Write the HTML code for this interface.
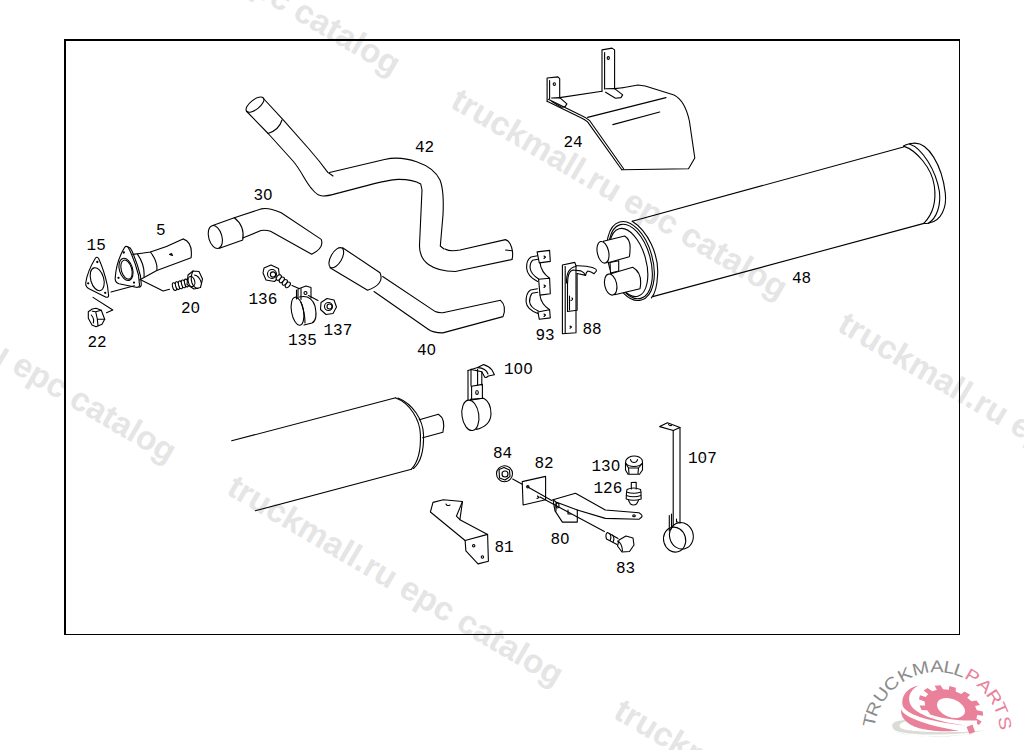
<!DOCTYPE html>
<html><head><meta charset="utf-8">
<style>
html,body{margin:0;padding:0;background:#fff;width:1024px;height:750px;overflow:hidden}
svg{position:absolute;left:0;top:0}
.wm{font-family:"Liberation Sans",sans-serif;font-weight:bold;font-size:33.25px;fill:#e5e5e5}
.lb{font-family:"Liberation Mono",monospace;font-size:16px;fill:#000}
</style></head><body>
<svg width="1024" height="750" viewBox="0 0 1024 750">
<g id="wm" class="wm">
<text transform="translate(449,106.4) rotate(30.4)">truckmall.ru epc catalog</text>
<text transform="translate(836,330) rotate(30.4)">truckmall.ru epc catalog</text>
<text transform="translate(62,-117.3) rotate(30.4)">truckmall.ru epc catalog</text>
<text transform="translate(225.2,493.2) rotate(30.4)">truckmall.ru epc catalog</text>
<text transform="translate(612,717) rotate(30.4)">truckmall.ru epc catalog</text>
<text transform="translate(-162,270) rotate(30.4)">truckmall.ru epc catalog</text>
</g>
<g id="border" fill="none" stroke="#000">
<rect x="64" y="39" width="2" height="596" fill="#000" stroke="none"/><rect x="64" y="39" width="896" height="2" fill="#000" stroke="none"/><rect x="959" y="39" width="1" height="596" fill="#000" stroke="none"/><rect x="64" y="634" width="896" height="1" fill="#000" stroke="none"/>
</g>
<g id="draw" fill="none" stroke="#000" stroke-width="1.1" stroke-linecap="round" stroke-linejoin="round">
<!-- pipe 42 -->
<ellipse cx="255" cy="104.6" rx="10.7" ry="4.8" transform="rotate(-38 255 104.6)"/>
<path d="M263,98 L283,119.6 L309,149 C316,157 321,163 327.8,172.4 L333,176"/>
<path d="M268,133.5 Q279,130 282,120"/>
<path d="M329.5,172.5 L384.5,159.5 C404,155 432,163 440,180 C444,190 443.5,205 443,215 L440.3,246 L444,249"/>
<path d="M445,249 Q450,252 460,250 L505.5,239.6 C511,241 514,252 512,259.5"/>
<path d="M505.5,250 L511.7,250.7"/>
<path d="M246.5,111.25 L268.6,134 L293,161 C301,170 306,183 312,189 C315,193 318,196 323,196 C329,196 334,194 340,192.6 L360,187.4 C375,183.5 388,179.6 398,179.4 C408,179.3 416,181 420.75,184 L422,190 L419.5,245 C419,262 432,271 455.3,271.5 L512,259.5"/>
<!-- pipe 30 -->
<ellipse cx="215.3" cy="237" rx="6.6" ry="11.8" transform="rotate(-16 215.3 237)"/>
<path d="M212.7,225.4 L234.3,217.8 Q245,226 242.8,240 L219.5,248.3"/>
<path d="M234.3,217.8 L261,208.9 Q266,207.8 272,209.5 Q277,211 281.2,212.7 L321.2,239.4 Q324.5,248 311.7,254.3 L270.5,231.3 Q266,229.8 261,230.5 L242.8,238"/>
<!-- pipe 40 -->
<ellipse cx="336.3" cy="257.7" rx="5.5" ry="11.2" transform="rotate(30 336.3 257.7)"/>
<path d="M342.6,247.7 L380,272.7 Q385,284 367.6,290.3 L330,267.7"/>
<path d="M382.7,276.5 L435.3,311.6 Q438,313 442.8,312.8 L500.5,300.3 Q507,306 503,316.6 L442.8,332.9 Q433,333 427.8,329 L374,291.5"/>
<!-- muffler 48 -->
<path d="M632.2,221.2 L903.5,147"/>
<path d="M652.7,296.6 L924,223.4"/>
<path d="M903.5,146.1 C916,150 932,168 934.3,185.8 C936,198 935,212 924,223.2"/>
<path d="M909.4,144 C922,148 936,170 939.4,191.7 C941,205 937,218 928.4,223.2"/>
<path d="M913.8,143.2 C928,142 942,165 945.3,193.1 C947,208 941,220 930.6,222.5"/>
<path d="M903.5,146.1 Q907,143.6 913.8,143.2 M924,223.2 Q927,224.2 930.6,222.5"/>
<path d="M632.2,221.2 C648,231 659,255 657.6,275 C657,287 655,294 651.4,297.8"/>
<ellipse cx="630.5" cy="261" rx="22" ry="40.5" transform="rotate(-15.6 630.5 261)"/>
<ellipse cx="630.5" cy="261.5" rx="20" ry="38.3" transform="rotate(-15.6 630.5 261.5)"/>
<ellipse cx="628.5" cy="262.5" rx="17.5" ry="35" transform="rotate(-15.6 628.5 262.5)"/>
<!-- muffler lower-left -->
<path d="M231.7,440.8 L395.7,397.8"/>
<path d="M255.3,510.8 L411.4,469.2"/>
<path d="M395.7,398 C410,403 420,420 420.4,434.4 C421,450 418,462 411.4,469.2"/>
<path d="M398,398 C413,404 423,420 423.5,434.4 C424,450 421,462 413.5,468.5"/>
<path d="M419.3,419.8 L438.4,414.2 Q446,419 442.9,432.2 L422.7,437.8"/>
<!-- heat shield 24 -->
<path d="M547.1,101.2 L547.1,78 L557.9,76.9 L559.7,78.7 L559.7,97.6"/>
<path d="M549.6,80.5 L549.6,98.5"/>
<ellipse cx="554.3" cy="84.1" rx="1.1" ry="1.4"/>
<path d="M551.6,98 L559.7,97.6 L566.9,103.9 L565.1,106.6 L561.5,107.3 L551.8,101.5"/>
<path d="M559.7,97.6 L602,91.3 M614.6,88.6 L622.7,87.7"/>
<path d="M602,91.3 L602,49.9 L612,48.1 L614.6,49.9 L614.6,88.6"/>
<path d="M604.6,52.5 L604.6,89"/>
<ellipse cx="608.3" cy="58" rx="1.1" ry="1.4"/>
<path d="M605.6,88.8 L614.6,88.6 L622.7,94.9 L620.9,97.6 L615.5,98.3 L605.6,92.2"/>
<path d="M622.7,87.7 L638,85 L645.2,86 L674,95 C682,99 687,110 689.4,121 L694.8,158 L688.5,168.8 L621.8,169.7"/>
<path d="M547.1,101.2 L580.4,117.4 Q584.5,119 587.6,121.9 L621.8,169.7"/>
<path d="M548.3,99.2 L581.3,115.5 Q586,117.5 589.4,120.3 L623.6,168.8"/>
<path d="M587.6,117.4 L666,97.6"/>
<path d="M612.8,124.6 L659.7,112"/>
<!-- gasket 15 -->
<path d="M95.5,258 Q97,256.3 98.6,258.5 Q104,270 107.5,286 L108.6,295.5 Q108.6,297.8 106,297.2 L88.5,288.5 Q85.3,286.5 85.8,282.5 Q87.5,271 95.5,258 Z"/>
<ellipse cx="97.2" cy="279.2" rx="6.5" ry="11.8" transform="rotate(-16 97.2 279.2)"/>
<circle cx="97.3" cy="262" r="0.6"/><circle cx="88.2" cy="283.3" r="0.6"/><circle cx="105.2" cy="292.8" r="0.6"/>
<!-- flange 5 -->
<path d="M124.5,247.5 Q126,245.5 128,247 Q134,258 138.5,275 L139.5,285.5 Q139,287.8 136,287.3 L119,283.8 Q115,282.5 115.2,278.4 Q116,262 124.5,247.5 Z"/>
<path d="M128,247 Q130.5,247.5 131.5,250 Q137,262 140.5,276 L141.3,284.5 Q141.2,287 139,287.3"/>
<ellipse cx="126" cy="269.4" rx="6.6" ry="11.4" transform="rotate(-16 126 269.4)"/>
<ellipse cx="126.5" cy="269.6" rx="5.2" ry="9.8" transform="rotate(-16 126.5 269.6)"/>
<circle cx="123.8" cy="252.5" r="0.6"/><circle cx="118.5" cy="277.8" r="0.6"/><circle cx="134" cy="282.6" r="0.6"/>
<path d="M132.8,254.4 Q142,253.5 150.4,252 Q167,247 183,238.9 Q193,242 191.1,257.8 L156.8,270.4 L139.5,280"/>
<path d="M137.6,254.4 Q145,265 144,276.8"/>
<path d="M150.4,252 Q158,262 156.8,270.4"/>
<path d="M169.5,254.5 l2,-1 l1,2 z"/>
<!-- bolt 20 -->
<ellipse fill="#fff" cx="174.5" cy="286.6" rx="1.9" ry="4" transform="rotate(-15 174.5 286.6)"/>
<ellipse fill="#fff" cx="177.5" cy="285.7" rx="1.9" ry="4" transform="rotate(-15 177.5 285.7)"/>
<ellipse fill="#fff" cx="180.5" cy="284.8" rx="1.9" ry="4" transform="rotate(-15 180.5 284.8)"/>
<ellipse fill="#fff" cx="183.5" cy="283.9" rx="1.9" ry="4" transform="rotate(-15 183.5 283.9)"/>
<ellipse fill="#fff" cx="186.5" cy="283.0" rx="1.9" ry="4" transform="rotate(-15 186.5 283.0)"/>
<path fill="#fff" d="M188,275 L193,271 L199,271.5 L202.5,279 L200.5,287.5 L194,289 L187,284.5 Z"/>
<path d="M193,271 Q190,277 192,283 Q194,288 198,288.5 M194.5,275 Q199,275.5 201.5,283"/>
<ellipse cx="191.5" cy="281.5" rx="3.2" ry="5.2" transform="rotate(-15 191.5 281.5)"/>
<!-- leaders -->
<path d="M111,292 L134.4,285.7"/>
<path d="M141.6,280.3 L163.2,291 L169.5,289.3"/>
<path d="M93,297.4 L112.8,310 L106.5,312.7"/>
<!-- nut 22 -->
<path d="M88.3,311.7 L92.3,309 L96,308.3 L101.3,310.3 L104.7,319.3 L102,324.3 L96,326.7 L92,325 L88.3,318.3 Z"/>
<path d="M92.3,311.3 L95.7,311.7 L101.3,310.3 M95.7,311.7 L97.3,319 L98,325.7 M97.3,319 L104.7,319.3"/>
<path d="M91.3,315 Q94.5,318.5 93.3,323"/>
<!-- bolt 136 -->
<path d="M264,268 L271,265 L278.5,268.5 L279.5,276.5 L274.5,281.5 L266,280 L263,273 Z"/>
<circle cx="272" cy="274" r="4.5"/>
<circle cx="273" cy="274.5" r="2.6"/>
<ellipse fill="#fff" cx="278.8" cy="277.5" rx="2" ry="3.2" transform="rotate(40 278.8 277.5)"/>
<ellipse fill="#fff" cx="281.8" cy="279.9" rx="2" ry="3.2" transform="rotate(40 281.8 279.9)"/>
<ellipse fill="#fff" cx="284.8" cy="282.4" rx="2" ry="3.2" transform="rotate(40 284.8 282.4)"/>
<ellipse fill="#fff" cx="287.8" cy="284.9" rx="2" ry="3.2" transform="rotate(40 287.8 284.9)"/>
<path d="M292,285.4 L299,288.6"/>
<!-- clamp 135 -->
<ellipse cx="297.5" cy="311.2" rx="6" ry="14.2" transform="rotate(-10 297.5 311.2)"/>
<path d="M299.5,297 Q311,294.5 315,306 Q318,320 312,323 L304,325"/>
<path d="M301,302 Q305,313 305,323"/>
<path d="M298,298.5 L298,289 L306,286 L311,287.5 L311,298"/>
<path d="M301,288.5 L301,299.5 M296.5,299 L296.5,290"/>
<circle cx="305.5" cy="293" r="1.5"/>
<path d="M308.4,295.6 L318,300.6"/>
<!-- nut 137 -->
<path d="M321,302.5 L327,298.5 L334,300 L336.5,307 L333,313.5 L326,314.5 L320.5,309.5 Z"/>
<circle cx="328.5" cy="306.5" r="4"/>
<circle cx="329.5" cy="306.5" r="2.5"/>
<!-- bracket 93 -->
<path d="M537.1,251.9 L549.6,250.4 L550.3,261.4 L539.3,262.9 Z"/>
<path d="M538.6,279.3 L549.6,278.3 L550.3,293.7 L540,295.1 Z"/>
<path d="M537.9,312 L549.6,309.8 L550.3,317.9 L539.3,319.3 Z"/>
<path d="M537.5,255.8 L531,257 Q526.3,260 526.6,268 Q527.3,276.5 537.6,281.5"/>
<path d="M537.8,259.3 L532.5,260.3 Q529.8,263 530.1,268 Q530.8,274 538.6,279"/>
<path d="M540,262.9 Q541,272 549.6,278.3"/>
<path d="M537.5,288.8 L530.5,290 Q525.8,293 526.1,302 Q526.8,309.5 537.9,313.5"/>
<path d="M537.8,292.3 L532,293.3 Q529.3,297 529.6,302 Q530.3,307.5 538.3,311"/>
<path d="M540,295.5 Q541,304 549.6,309.8"/>
<path d="M544,256 l1.5,1 l-1.5,1.5 M544,285 l1.5,1 l-1.5,1.5 M544,314 l1.5,1 l-1.5,1.5"/>
<!-- bracket 88 -->
<path d="M562.4,265 L574.8,262.4 L576,265.8 L576,310.6 M562.4,265 L562.4,333.8 L576,332.7 L576,310.6"/>
<path d="M565.2,266.5 L565.2,333.5"/>
<path d="M576,265.8 Q586,265.5 592.4,267.5 Q597,269 596.4,271 L594.1,273.7 Q591,271.5 587.9,271 Q586,272 585.6,275.4"/>
<path d="M566.5,283 Q566,268 576,266.5"/>
<path d="M567.5,284 Q567.5,271 573,270 L581,270.9 Q584,272 585.6,275.4 L577.1,273.5"/>
<path d="M567.5,284 L567.5,311.5 L577.1,310.3 L577.1,273.5"/>
<path d="M569.5,296 L569.5,310"/>
<path d="M572,298 q1.5,1.5 -1,2.5 M570,326 l1.5,1 l-1.5,1.2"/>
<!-- muffler 48 stubs -->
<path fill="#fff" d="M603.3,241.3 L624.7,236 Q631,240 630,250 Q630,254 629.3,256.7 L608,262.7 Z"/>
<ellipse fill="#fff" cx="603" cy="252.3" rx="5.7" ry="11" transform="rotate(-12 603 252.3)"/>
<path fill="#fff" d="M610,262.5 L618.7,260.8 L618.7,271 L610.5,273 Z"/>
<path fill="#fff" d="M610,274 L632.7,267.3 Q641,272 640.7,283 Q640.5,286 640,288.7 L614.7,294.7 Z"/>
<ellipse fill="#fff" cx="610.7" cy="284.6" rx="6" ry="10.7" transform="rotate(-12 610.7 284.6)"/>
<!-- clamp 100 -->
<ellipse cx="470.4" cy="415.3" rx="8.4" ry="15.3" transform="rotate(-8 470.4 415.3)"/>
<path d="M470.4,399.4 L483.6,398.2 Q491,402 491,414 Q490.5,426 476.4,429.4"/>
<path d="M468,370.6 L468,400 M471,369.4 L471,386 M477.6,369.4 L477.6,385 M481.8,371.8 L481.8,385"/>
<path d="M471.6,386.2 L482.4,384.4 L482.4,398.2 L471.6,400 Z"/>
<ellipse cx="477" cy="392.5" rx="1.3" ry="2"/>
<path d="M468,370.6 L477.6,367.6 L483.6,364.6 Q489,366 492,370 L494.4,374.8 L488.4,376 Q486,378 484.8,377.2 L481.8,371.8 L471,369.4"/>
<path d="M477.6,367.6 Q486,368 488,374"/>
<!-- nut 84 -->
<circle cx="504.5" cy="473.8" r="8"/>
<path d="M499,469.5 L504,467.5 L509.5,470 L510,476.5 L505,480 L499.5,478 Z"/>
<circle cx="505" cy="474" r="3"/>
<path d="M512.7,479 L522.2,484.2"/>
<!-- plate 82 -->
<path d="M522.2,481.6 L545.6,476.4 L545.6,499.8 L523.1,505 Z"/>
<path d="M527.4,486.8 L551.7,500.6"/>
<circle cx="527.8" cy="486.8" r="1.2"/>
<path d="M537.5,496 l1.5,1.5 l-2,1"/>
<!-- bracket 81 -->
<path d="M430.4,512 L433,502.4 L443.4,499.8 L462.5,501.5 L456.4,516.2 L459.9,519.7 L487.6,534.4 L488.4,561.3 L478,563.9 L465.9,550.9 L465.1,540.5 Z"/>
<path d="M462.5,501.5 L459.9,519.7 M465.1,540.5 L487.6,534.4"/>
<path d="M446,504 Q447,506.5 450,505"/>
<circle cx="473.7" cy="545.7" r="1.2"/>
<circle cx="482.4" cy="557" r="1.2"/>
<!-- bracket 80 -->
<path d="M553,499.7 L575.5,493.2 L605.3,510 L638.9,512.8 Q643,515 641.7,517 L638.9,519.3 L605.3,518.4 L577.3,510 L577.3,522.1 L562.4,522.1 L555,510.9 Z"/>
<path d="M553,499.7 L556,502 L577.3,510 M556,502 L556,511"/>
<ellipse cx="557.5" cy="505.5" rx="1.5" ry="2.5"/>
<path d="M568,510 l0,4 l3,0"/>
<ellipse cx="634" cy="515.8" rx="1.3" ry="1"/>
<path d="M540,497 L604.4,531.5"/>
<!-- bolt 83 -->
<path d="M619,540 L626,536 L633,538 L634,545 L629.5,551.5 L622,552 L617.5,546 Z"/>
<path d="M617.5,541 Q622,543 622.5,551"/>
<path d="M618,538.5 L607.5,532.5 Q605,534 606.5,539 L617,544.5"/>
<path d="M609.5,533.5 Q612,537 610,540.5 M612.5,535 Q615,538.5 613,542"/>
<!-- nut 130 -->
<path d="M625.5,463 L625.5,470 L628,474.3 L639.5,474.3 L642.5,470 L642.5,463"/>
<path d="M628.5,468 L638.5,468 M628.5,468 L629,473.5 M638.5,468 L638,473.5 M625.5,463 L628.5,468 M642.5,463 L638.5,468"/>
<path d="M626,460 Q629,456 634,456 Q640,456 642.2,460 L642.5,463 Q640,466.5 634,466.5 Q628,466.5 625.5,463 Z"/>
<path d="M630.5,459.5 Q631,462.5 634,462.5 Q637,462.5 637.5,459.5"/>
<!-- mount 126 -->
<path d="M631.3,489 L631.3,482.5 L636.2,482.3 L636.2,489"/>
<path d="M627,489.5 Q633.5,486.5 640.5,489.5 L641,492 Q633.5,494.5 626.5,492 Z"/>
<path d="M626.5,492.5 L626.3,495.5 Q633.5,498 641,495.5 L641,492.5"/>
<path d="M626.3,495.8 L626.2,499 Q633.5,501.5 641.2,499 L641,495.8"/>
<path d="M628.5,500.5 L630.5,504 Q633.5,506 636.5,504 L638.5,500.5"/>
<!-- strap 107 -->
<path d="M659.7,426.6 L667.4,422.7 L680,427.6 L673.2,430.5 Z"/>
<path d="M673.2,430.5 L673.2,526 M680,427.6 L680,523.2"/>
<path d="M669.3,515.5 L669.3,531 M671.5,514 L671.5,529"/>
<path d="M676.5,519 l0,3 l1.5,0"/>
<path d="M668.5,424.5 q1,1.5 3,1"/>
<ellipse cx="674.6" cy="539.6" rx="11" ry="12.6" transform="rotate(-15 674.6 539.6)"/>
<ellipse cx="681.4" cy="535.8" rx="11.8" ry="13.4" transform="rotate(-15 681.4 535.8)"/>
</g>
<g class="lb">
<text x="415" y="152.0">42</text>
<text x="253.5" y="200.0">30</text>
<text x="156" y="235.0">5</text>
<text x="86.6" y="250.0">15</text>
<text x="181" y="312.5">20</text>
<text x="87.5" y="347.0">22</text>
<text x="248.5" y="303.5">136</text>
<text x="288" y="345.0">135</text>
<text x="323.5" y="334.5">137</text>
<text x="417" y="355.0">40</text>
<text x="535.5" y="340.0">93</text>
<text x="582.5" y="333.5">88</text>
<text x="563.5" y="147.0">24</text>
<text x="792" y="282.5">48</text>
<text x="504" y="374.0">100</text>
<text x="493" y="457.5">84</text>
<text x="534.5" y="468.0">82</text>
<text x="494.5" y="552.0">81</text>
<text x="591.5" y="471.0">130</text>
<text x="593.5" y="492.5">126</text>
<text x="550.5" y="544.0">80</text>
<text x="616" y="573.0">83</text>
<text x="688" y="462.5">107</text>
</g>
<g id="zd" fill="#fff"><circle cx="267.9" cy="194.0" r="1.4"/><circle cx="195.4" cy="306.5" r="1.4"/><circle cx="431.4" cy="349.0" r="1.4"/><circle cx="518.4" cy="368.0" r="1.4"/><circle cx="528.0" cy="368.0" r="1.4"/><circle cx="615.5" cy="465.0" r="1.4"/><circle cx="564.9" cy="538.0" r="1.4"/><circle cx="702.4" cy="456.5" r="1.4"/></g>
<g id="logo">
<g style="font-family:'Liberation Sans',sans-serif;font-size:17.0px" text-anchor="middle">
<text transform="translate(869.3,720.6) rotate(-77.6) scale(1.18,1)" fill="#8b8b8b" dy="6.1">T</text>
<text transform="translate(873.1,708.6) rotate(-67.2) scale(1.18,1)" fill="#8b8b8b" dy="6.1">R</text>
<text transform="translate(881.1,694.6) rotate(-53.8) scale(1.18,1)" fill="#8b8b8b" dy="6.1">U</text>
<text transform="translate(891.2,683.5) rotate(-41.4) scale(1.18,1)" fill="#8b8b8b" dy="6.1">C</text>
<text transform="translate(904.5,674.3) rotate(-28.0) scale(1.18,1)" fill="#8b8b8b" dy="6.1">K</text>
<text transform="translate(920.5,668.2) rotate(-13.8) scale(1.18,1)" fill="#8b8b8b" dy="6.1">M</text>
<text transform="translate(936.8,666.2) rotate(-0.2) scale(1.18,1)" fill="#8b8b8b" dy="6.1">A</text>
<text transform="translate(949.2,667.3) rotate(10.1) scale(1.18,1)" fill="#8b8b8b" dy="6.1">L</text>
<text transform="translate(959.8,670.1) rotate(19.2) scale(1.18,1)" fill="#8b8b8b" dy="6.1">L</text>
<text transform="translate(972.5,676.0) rotate(30.8) scale(1.18,1)" fill="#e9819b" dy="6.1">P</text>
<text transform="translate(985.1,685.6) rotate(43.9) scale(1.18,1)" fill="#e9819b" dy="6.1">A</text>
<text transform="translate(994.6,696.9) rotate(56.2) scale(1.18,1)" fill="#e9819b" dy="6.1">R</text>
<text transform="translate(1000.9,708.6) rotate(67.2) scale(1.18,1)" fill="#e9819b" dy="6.1">T</text>
<text transform="translate(1005.2,723.1) rotate(79.7) scale(1.18,1)" fill="#e9819b" dy="6.1">S</text>
</g>
<path fill="#dadcd6" d="M892.5,727 C890.5,721.5 899,719.5 912,720 C901,721.5 896.5,725 901.5,728.5 C915,733 950,733 984,730.5 C960,735.5 915,736 898,731.5 C894.5,730.5 893,729 892.5,727 Z"/>
<path fill="#dcded8" d="M895.5,731.5 C905,737 942,738.5 982,732.5 C952,738 915,738.5 895.5,731.5 Z"/>
<path fill="#e9819b" fill-rule="evenodd" transform="translate(951,708) rotate(21) scale(27.5,17)" d="M0.999,0.048 L1.216,0.094 L1.172,0.338 L0.953,0.304 L0.862,0.507 L1.033,0.649 L0.881,0.844 L0.702,0.712 L0.528,0.849 L0.613,1.055 L0.388,1.157 L0.291,0.957 L0.072,0.997 L0.053,1.219 L-0.194,1.205 L-0.187,0.982 L-0.399,0.917 L-0.519,1.104 L-0.731,0.976 L-0.622,0.783 L-0.780,0.626 L-0.973,0.736 L-1.101,0.525 L-0.915,0.404 L-0.981,0.192 L-1.204,0.200 L-1.219,-0.047 L-0.998,-0.068 L-0.958,-0.286 L-1.158,-0.383 L-1.058,-0.608 L-0.852,-0.524 L-0.716,-0.699 L-0.848,-0.877 L-0.654,-1.030 L-0.511,-0.860 L-0.309,-0.951 L-0.343,-1.171 L-0.100,-1.216 L-0.053,-0.999 L0.168,-0.986 L0.240,-1.196 L0.476,-1.123 L0.417,-0.909 L0.607,-0.795 L0.769,-0.947 L0.944,-0.773 L0.792,-0.611 L0.907,-0.421 L1.121,-0.482 L1.195,-0.246 L0.985,-0.173 Z M0.530,0 A0.530,0.530 0 1,0 -0.530,0 A0.530,0.530 0 1,0 0.530,0 Z"/>
<path fill="#fff" d="M913,687 C906,696 909,706 924,712.5 C942,719 958,721 977,720.5 L977,731 C960,733 935,731 915,725 C898,719 893,705 908,690 Z"/>
<path fill="#e9819b" d="M918.4,685.4 C906,688 901,697 902.5,705 C905,714 925,721 966,725.5 C940,722 920,716 912,707 C907,700 908,691 918.4,685.4 Z"/>
<path fill="#e9819b" d="M901.2,708.9 C900,716 905,724 920,728.5 C935,732 950,731.5 959,730.8 C942,728 927,724.5 914,719 C906,715.5 902,712 901.2,708.9 Z"/>
<path fill="#e9819b" d="M966.5,727 L972.5,724.5 L975,732 L969.5,734 Z"/>
</g>
</svg>
</body></html>
